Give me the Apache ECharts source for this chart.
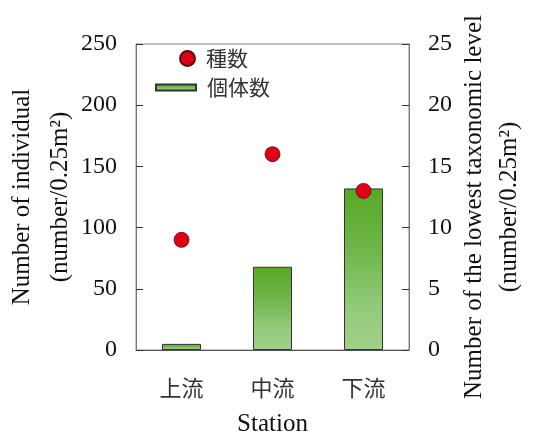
<!DOCTYPE html>
<html>
<head>
<meta charset="utf-8">
<script src="https://cdn.jsdelivr.net/npm/echarts@6/dist/echarts.min.js"></script>
<style>html,body{margin:0;padding:0;background:#fff;}#c{width:534px;height:432px;}</style>
</head>
<body>
<div id="c"></div>
<script>
var categories = ['上流', '中流', '下流'];
var individuals = [5, 68, 132];
var species = [9, 16, 13];
var leftTicks = { min: 0, max: 250, interval: 50 };
var rightTicks = { min: 0, max: 25, interval: 5 };

var serif = '"Liberation Serif", "Times New Roman", serif';
var cjk = '"Noto Sans CJK JP", sans-serif';

var chart = echarts.init(document.getElementById('c'), null, { renderer: 'canvas' });
var barGrad = new echarts.graphic.LinearGradient(0, 0, 0, 1, [
  { offset: 0, color: '#58a925' },
  { offset: 0.35, color: '#6cb447' },
  { offset: 0.75, color: '#94cb7b' },
  { offset: 1, color: '#a0d18a' }
]);
chart.setOption({
  animation: false,
  grid: { left: 136, right: 125, top: 44, bottom: 82, show: true, borderColor: '#8a8a8a', borderWidth: 1, outerBoundsMode: 'none', containLabel: false },
  legend: [
    {
      data: [{ name: '種数', icon: 'circle' }],
      left: 179, top: 48, padding: 0, itemWidth: 15, itemHeight: 15, itemGap: 0,
      textStyle: { fontFamily: cjk, fontSize: 21, color: '#333', padding: [0, 0, 0, 6] },
      selectedMode: false
    },
    {
      data: [{ name: '個体数', icon: 'rect' }],
      left: 155, top: 77, padding: 0, itemWidth: 40, itemHeight: 6, itemGap: 0,
      textStyle: { fontFamily: cjk, fontSize: 21, color: '#333', padding: [0, 0, 0, 6] },
      selectedMode: false
    }
  ],
  xAxis: {
    type: 'category',
    data: categories,
    name: 'Station',
    nameLocation: 'middle',
    nameGap: 62,
    nameMoveOverlap: false,
    nameTextStyle: { fontFamily: serif, fontSize: 25, color: '#111' },
    axisLine: { lineStyle: { color: '#555', width: 1 } },
    axisTick: { inside: true, length: 9, lineStyle: { color: '#333' } },
    axisLabel: { margin: 27, fontFamily: cjk, fontSize: 22, color: '#333' }
  },
  yAxis: [
    {
      type: 'value',
      min: leftTicks.min, max: leftTicks.max, interval: leftTicks.interval,
      name: 'Number of individual\n(number/0.25m²)',
      nameLocation: 'middle',
      nameRotate: 90,
      nameGap: 57,
      nameMoveOverlap: false,
      nameTextStyle: { fontFamily: serif, fontSize: 25, color: '#111', lineHeight: 38 },
      axisLine: { show: true, lineStyle: { color: '#777' } },
      axisTick: { show: true, inside: true, length: 7, lineStyle: { color: '#333' } },
      axisLabel: { margin: 19, fontFamily: serif, fontSize: 24, color: '#111' },
      splitLine: { show: false }
    },
    {
      type: 'value',
      position: 'right',
      min: rightTicks.min, max: rightTicks.max, interval: rightTicks.interval,
      name: 'Number of the lowest taxonomic level\n(number/0.25m²)',
      nameLocation: 'middle',
      nameRotate: 90,
      nameGap: 48,
      nameMoveOverlap: false,
      nameTextStyle: { fontFamily: serif, fontSize: 25, color: '#111', lineHeight: 35, padding: [0, 20, 0, 0] },
      axisLine: { show: true, lineStyle: { color: '#777' } },
      axisTick: { show: true, inside: true, length: 7, lineStyle: { color: '#333' } },
      axisLabel: { margin: 19, fontFamily: serif, fontSize: 24, color: '#111' },
      splitLine: { show: false }
    }
  ],
  series: [
    {
      name: '個体数',
      type: 'bar',
      yAxisIndex: 0,
      data: individuals,
      barWidth: 39,
      itemStyle: { color: barGrad, borderColor: '#333', borderWidth: 1 },
      z: 2
    },
    {
      name: '種数',
      type: 'scatter',
      yAxisIndex: 1,
      data: species,
      symbol: 'circle',
      symbolSize: 15,
      itemStyle: { color: '#e00016', borderColor: '#5a0a0a', borderWidth: 0.8, opacity: 1 },
      z: 3
    }
  ]
});
</script>
</body>
</html>
